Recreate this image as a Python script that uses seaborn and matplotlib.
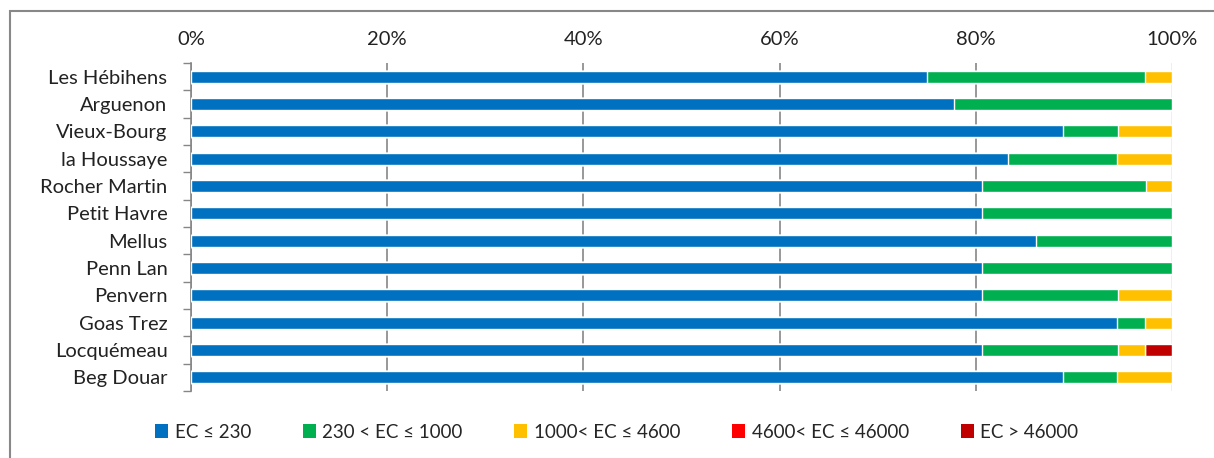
import numpy as np
import pandas as pd
import matplotlib
matplotlib.use("Agg")
import matplotlib.pyplot as plt
from matplotlib.patches import Patch, Rectangle
import seaborn as sns

# Share of samples per E. coli class at each beach (percent)
sites = ["Les Hébihens", "Arguenon", "Vieux-Bourg", "la Houssaye", "Rocher Martin",
         "Petit Havre", "Mellus", "Penn Lan", "Penvern", "Goas Trez", "Locquémeau",
         "Beg Douar"]
ec_le_230 = [75.0, 77.8, 88.9, 83.3, 80.6, 80.6, 86.1, 80.6, 80.6, 94.4, 80.6, 88.9]
ec_230_1000 = [22.2, 22.2, 5.6, 11.1, 16.7, 19.4, 13.9, 19.4, 13.9, 2.8, 13.9, 5.5]
ec_1000_4600 = [2.8, 0.0, 5.5, 5.6, 2.7, 0.0, 0.0, 0.0, 5.5, 2.8, 2.7, 5.6]
ec_4600_46000 = [0.0] * 12
ec_gt_46000 = [0.0, 0.0, 0.0, 0.0, 0.0, 0.0, 0.0, 0.0, 0.0, 0.0, 2.8, 0.0]

classes = ["EC ≤ 230", "230 < EC ≤ 1000", "1000< EC ≤ 4600",
           "4600< EC ≤ 46000", "EC > 46000"]
colors = ["#0070C0", "#00B050", "#FFC000", "#FF0000", "#C00000"]
tick_labels = ["0%", "20%", "40%", "60%", "80%", "100%"]

sns.set_style("white")
plt.rcParams["font.family"] = ["Lato", "DejaVu Sans"]
plt.rcParams["font.size"] = 14

series = [ec_le_230, ec_230_1000, ec_1000_4600, ec_4600_46000, ec_gt_46000]
df = pd.DataFrame({"site": sites})
cum = np.zeros(len(sites))
for name, vals in zip(classes, series):
    cum = cum + np.array(vals)
    df[name] = cum / 100.0

fig = plt.figure(figsize=(12.14, 4.58), dpi=100)
ax = fig.add_axes([191 / 1214, 1 - 391 / 458, (1172 - 191) / 1214, (391 - 63) / 458])

# stacked bars: draw cumulative totals from the outermost class inwards
for name, col in reversed(list(zip(classes, colors))):
    sns.barplot(data=df, x=name, y="site", orient="h", color=col, width=0.45,
                saturation=1, ax=ax, zorder=3)

ax.set_xlim(0, 1)
ax.set_ylim(len(sites) - 0.5, -0.5)
ax.set_xlabel("")
ax.set_ylabel("")
ax.xaxis.tick_top()
ax.set_xticks(np.linspace(0, 1, 6))
ax.set_xticklabels(tick_labels)
ax.tick_params(axis="x", length=0, pad=11, labelsize=14.5, colors="#222222")
ax.tick_params(axis="y", which="major", length=0, pad=17, labelsize=14.5, colors="#222222")
ax.set_yticks(np.arange(len(sites) + 1) - 0.5, minor=True)
ax.tick_params(axis="y", which="minor", length=6, width=1, color="#868686", left=True)

ax.grid(axis="x", color="#868686", linewidth=1.2, zorder=0)
ax.set_axisbelow(True)
gl = ax.get_xgridlines()
gl[-1].set_color("#EEEEEE")
gl[-1].set_linewidth(2)
for s in ["top", "right", "bottom"]:
    ax.spines[s].set_visible(False)
ax.spines["left"].set_color("#868686")
ax.spines["left"].set_linewidth(1.2)

handles = [Patch(facecolor=c, edgecolor="none", label=l) for l, c in zip(classes, colors)]
fig.legend(handles=handles, loc="center", bbox_to_anchor=(0.508, 1 - 432 / 458),
           ncol=5, frameon=False, fontsize=13.5, handlelength=0.7, handleheight=0.7,
           handletextpad=0.35, columnspacing=2.75)

# outer chart border
fig.add_artist(Rectangle((10 / 1214, -0.1), 1.2, 1 - 10.5 / 458 + 0.1,
                         transform=fig.transFigure, fill=False,
                         edgecolor="#888888", linewidth=1.5))

fig.savefig("out.png", dpi=100)
